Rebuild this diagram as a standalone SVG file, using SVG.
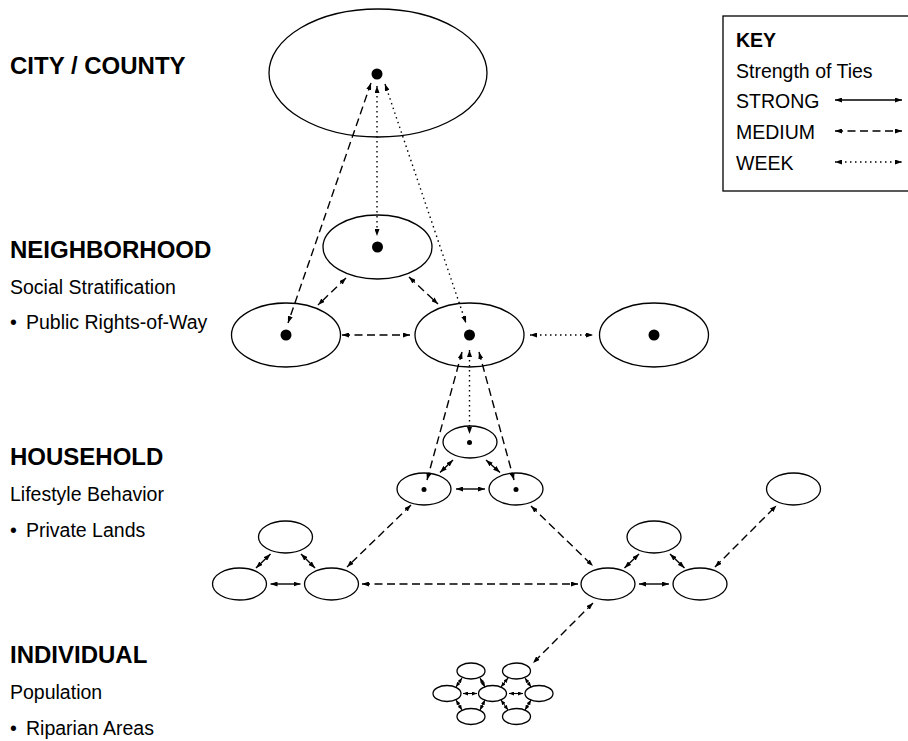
<svg xmlns="http://www.w3.org/2000/svg" width="908" height="741" viewBox="0 0 908 741">
<style>
  .bg { fill: #ffffff; }
  .node { fill: #ffffff; stroke: #000000; stroke-width: 1.3; }
  .dot { fill: #000000; }
  .head { font-family: "Liberation Sans", Arial, sans-serif; font-weight: bold; font-size: 24px; fill: #000; }
  .sub { font-family: "Liberation Sans", Arial, sans-serif; font-size: 19.5px; fill: #000; }
  .keyh { font-family: "Liberation Sans", Arial, sans-serif; font-weight: bold; font-size: 19.5px; fill: #000; }
  .tie { fill: none; stroke: #000; stroke-width: 1.4; marker-start: url(#ah); marker-end: url(#ah); }
  .tiny { fill: none; stroke: #000; stroke-width: 1.1; marker-start: url(#ahs); marker-end: url(#ahs); }
  .strong { }
  .medium { stroke-dasharray: 8 4.5; }
  .weak { stroke-dasharray: 1.5 3.5; }
</style>
<defs>
  <marker id="ah" viewBox="0 0 7 5" refX="7" refY="2.5" markerWidth="7" markerHeight="5" markerUnits="userSpaceOnUse" orient="auto-start-reverse">
    <path d="M0,0 L7,2.5 L0,5 z" fill="#000"/>
  </marker>
  <marker id="ahs" viewBox="0 0 5 4" refX="5" refY="2" markerWidth="5" markerHeight="4" markerUnits="userSpaceOnUse" orient="auto-start-reverse">
    <path d="M0,0 L5,2 L0,4 z" fill="#000"/>
  </marker>
</defs>
<rect class="bg" x="0" y="0" width="908" height="741"/>

<g id="labels">
  <text class="head" x="10" y="74">CITY / COUNTY</text>
  <text class="head" x="10" y="258">NEIGHBORHOOD</text>
  <text class="sub" x="10" y="294">Social Stratification</text>
  <text class="sub" x="10" y="329">• <tspan x="26">Public Rights-of-Way</tspan></text>
  <text class="head" x="10" y="465">HOUSEHOLD</text>
  <text class="sub" x="10" y="501">Lifestyle Behavior</text>
  <text class="sub" x="10" y="537">• <tspan x="26">Private Lands</tspan></text>
  <text class="head" x="10" y="663">INDIVIDUAL</text>
  <text class="sub" x="10" y="699">Population</text>
  <text class="sub" x="10" y="735">• <tspan x="26">Riparian Areas</tspan></text>
</g>

<g id="key">
  <rect x="723" y="16" width="190" height="175" fill="#fff" stroke="#000" stroke-width="1.3"/>
  <text class="keyh" x="736" y="47">KEY</text>
  <text class="sub" x="736" y="78">Strength of Ties</text>
  <text class="sub" x="736" y="108">STRONG</text>
  <text class="sub" x="736" y="139">MEDIUM</text>
  <text class="sub" x="736" y="170">WEEK</text>
  <line class="tie strong" x1="835" y1="100" x2="902" y2="100"/>
  <line class="tie medium" x1="835" y1="131" x2="902" y2="131"/>
  <line class="tie weak" x1="835" y1="162" x2="902" y2="162"/>
</g>

<g id="city">
  <ellipse class="node" cx="378" cy="73" rx="109" ry="64"/>
  <circle class="dot" cx="377" cy="74" r="5.5"/>
</g>
<g id="nb-top">
  <ellipse class="node" cx="377.5" cy="247" rx="54.5" ry="32"/>
  <circle class="dot" cx="377.5" cy="247" r="5.5"/>
</g>
<g id="nb-left">
  <ellipse class="node" cx="286" cy="335" rx="54.5" ry="32"/>
  <circle class="dot" cx="286" cy="335" r="5.5"/>
</g>
<g id="nb-mid">
  <ellipse class="node" cx="469.5" cy="335" rx="54.5" ry="32"/>
  <circle class="dot" cx="469.5" cy="335" r="5.5"/>
</g>
<g id="nb-right">
  <ellipse class="node" cx="654" cy="335" rx="54.5" ry="32"/>
  <circle class="dot" cx="654" cy="335" r="5.5"/>
</g>

<g id="hh-top">
  <ellipse class="node" cx="470" cy="442" rx="27" ry="16"/>
  <circle class="dot" cx="469.5" cy="442.5" r="2.5"/>
</g>
<g id="hh-left">
  <ellipse class="node" cx="424" cy="489" rx="27" ry="16"/>
  <circle class="dot" cx="424" cy="489.5" r="2.5"/>
</g>
<g id="hh-right">
  <ellipse class="node" cx="516" cy="489" rx="27" ry="16"/>
  <circle class="dot" cx="516" cy="489.5" r="2.5"/>
</g>
<g id="hh-far">
  <ellipse class="node" cx="793.5" cy="489" rx="27" ry="16"/>
</g>

<g id="lc-top"><ellipse class="node" cx="285.5" cy="537" rx="27" ry="16"/></g>
<g id="lc-left"><ellipse class="node" cx="239.5" cy="584" rx="27" ry="16"/></g>
<g id="lc-right"><ellipse class="node" cx="331.5" cy="584" rx="27" ry="16"/></g>

<g id="rc-top"><ellipse class="node" cx="654" cy="537" rx="27" ry="16"/></g>
<g id="rc-left"><ellipse class="node" cx="608" cy="584" rx="27" ry="16"/></g>
<g id="rc-right"><ellipse class="node" cx="700" cy="584" rx="27" ry="16"/></g>

<g id="ind-tl"><ellipse class="node" cx="471" cy="671" rx="14" ry="8"/></g>
<g id="ind-tr"><ellipse class="node" cx="516.5" cy="671" rx="14" ry="8"/></g>
<g id="ind-ml"><ellipse class="node" cx="447" cy="693.5" rx="14" ry="8"/></g>
<g id="ind-mc"><ellipse class="node" cx="492.5" cy="693.5" rx="14" ry="8"/></g>
<g id="ind-mr"><ellipse class="node" cx="539" cy="693.5" rx="14" ry="8"/></g>
<g id="ind-bl"><ellipse class="node" cx="471" cy="716.5" rx="14" ry="8"/></g>
<g id="ind-br"><ellipse class="node" cx="516.5" cy="716.5" rx="14" ry="8"/></g>

<g id="connectors">
  <line class="tie medium" x1="371" y1="83" x2="288" y2="323"/>
  <line class="tie weak" x1="377" y1="86" x2="377" y2="236"/>
  <line class="tie weak" x1="385" y1="84" x2="466" y2="323"/>
  <line class="tie medium" x1="346" y1="278" x2="318" y2="305"/>
  <line class="tie medium" x1="409" y1="277" x2="438" y2="304"/>
  <line class="tie medium" x1="342" y1="335" x2="410" y2="335"/>
  <line class="tie weak" x1="530" y1="335" x2="593" y2="335"/>

  <line class="tie medium" x1="462" y1="352" x2="427" y2="480"/>
  <line class="tie weak" x1="469.5" y1="350" x2="469.5" y2="434"/>
  <line class="tie medium" x1="479" y1="352" x2="514" y2="480"/>
  <line class="tie strong" x1="453" y1="460" x2="440" y2="472.5"/>
  <line class="tie strong" x1="486" y1="460" x2="500" y2="472.5"/>
  <line class="tie strong" x1="456" y1="489" x2="485" y2="489"/>

  <line class="tie medium" x1="411" y1="505" x2="347" y2="567"/>
  <line class="tie medium" x1="531" y1="506" x2="593" y2="566"/>
  <line class="tie medium" x1="362" y1="584" x2="578" y2="584"/>
  <line class="tie strong" x1="270.5" y1="554" x2="256" y2="568"/>
  <line class="tie strong" x1="301" y1="554" x2="315" y2="568"/>
  <line class="tie strong" x1="270.5" y1="584" x2="300.5" y2="584"/>
  <line class="tie strong" x1="639" y1="554" x2="624.5" y2="568"/>
  <line class="tie strong" x1="670" y1="554" x2="684.5" y2="568"/>
  <line class="tie strong" x1="639" y1="584" x2="669" y2="584"/>
  <line class="tie medium" x1="715" y1="567" x2="776.5" y2="505.5"/>
  <line class="tie medium" x1="593" y1="603" x2="533" y2="663"/>

  <line class="tiny" x1="463" y1="693.5" x2="477" y2="693.5"/>
  <line class="tiny" x1="509" y1="693.5" x2="523" y2="693.5"/>
  <line class="tiny" x1="462" y1="678" x2="456" y2="687"/>
  <line class="tiny" x1="480" y1="678" x2="485" y2="687"/>
  <line class="tiny" x1="462" y1="710" x2="456" y2="700"/>
  <line class="tiny" x1="480" y1="710" x2="485" y2="700"/>
  <line class="tiny" x1="508" y1="678" x2="501" y2="687"/>
  <line class="tiny" x1="525" y1="678" x2="531" y2="687"/>
  <line class="tiny" x1="508" y1="710" x2="501" y2="700"/>
  <line class="tiny" x1="525" y1="710" x2="531" y2="700"/>
</g>
</svg>
